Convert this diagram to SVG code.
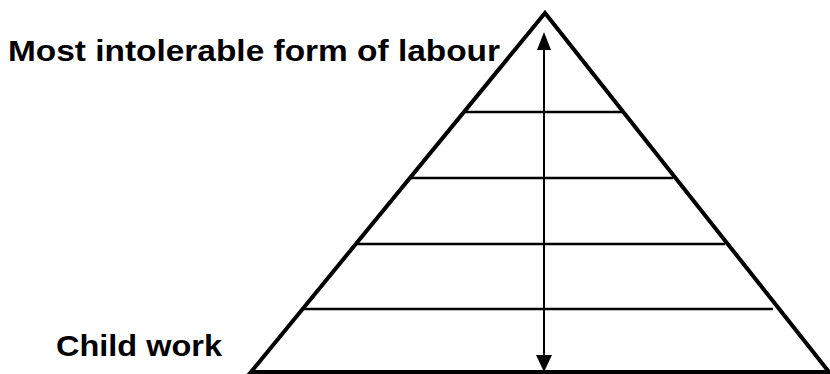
<svg xmlns="http://www.w3.org/2000/svg" width="830" height="374" viewBox="0 0 830 374">
<style>
.lbl{font-family:"Liberation Sans",Arial,sans-serif;font-weight:bold;font-size:30px;fill:#000}
.tri{fill:none;stroke:#000;stroke-width:4;stroke-linejoin:miter}
.tier{stroke:#000;stroke-width:2.5}
.axis{stroke:#000;stroke-width:2}
.head{fill:#000}
</style>
<rect width="830" height="374" fill="#fff"/>
<g id="pyramid">
<polygon class="tri" points="545,13 251,372 829,372"/>
<line class="tier" x1="464" y1="112" x2="623" y2="112"/>
<line class="tier" x1="411" y1="178" x2="673" y2="178"/>
<line class="tier" x1="357" y1="244" x2="725" y2="244"/>
<line class="tier" x1="304" y1="309" x2="773" y2="309"/>
</g>
<g id="connectors">
<line class="axis" x1="544" y1="40" x2="544" y2="362"/>
<path class="head" d="M544,32 L537,50 L551,50 Z"/>
<path class="head" d="M544,372 L536,355 L552,355 Z"/>
</g>
<g id="label-top">
<text class="lbl" x="8" y="61" textLength="492" lengthAdjust="spacingAndGlyphs">Most intolerable form of labour</text>
</g>
<g id="label-bottom">
<text class="lbl" x="56" y="356" textLength="166" lengthAdjust="spacingAndGlyphs">Child work</text>
</g>
</svg>
